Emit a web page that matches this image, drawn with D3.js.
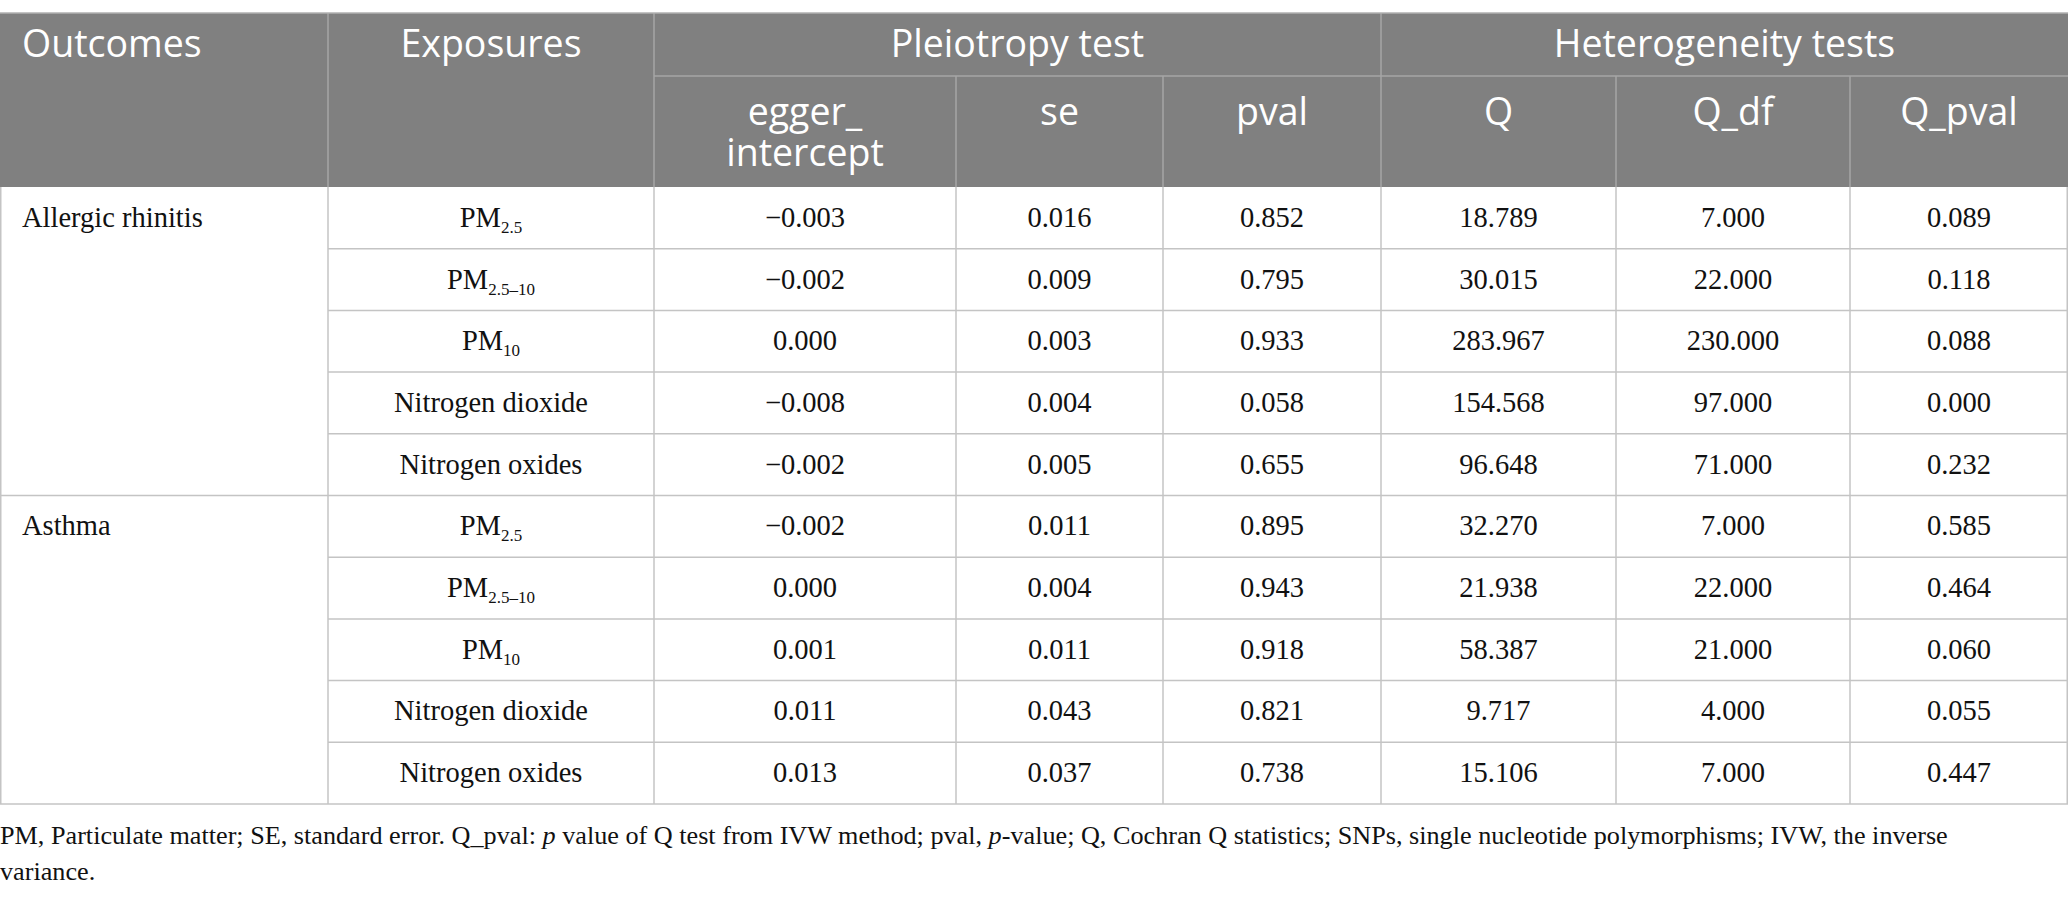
<!DOCTYPE html>
<html><head><meta charset="utf-8">
<script src="https://cdn.jsdelivr.net/npm/d3@7/dist/d3.min.js"></script>
<style>
html,body{margin:0;padding:0;background:#fff;}
svg{display:block;}
</style></head>
<body>
<svg id="chart" width="2068" height="898"></svg>
<script>
// ---------- data ----------
const outcomes = ["Allergic rhinitis", "Asthma"];
const exposureBase = ["PM", "PM", "PM", "Nitrogen dioxide", "Nitrogen oxides"];
const exposureSub = ["2.5", "2.5\u201310", "10", "", ""];
const eggerIntercept = [-0.003, -0.002, 0.000, -0.008, -0.002, -0.002, 0.000, 0.001, 0.011, 0.013];
const seVals = [0.016, 0.009, 0.003, 0.004, 0.005, 0.011, 0.004, 0.011, 0.043, 0.037];
const pvalVals = [0.852, 0.795, 0.933, 0.058, 0.655, 0.895, 0.943, 0.918, 0.821, 0.738];
const qVals = [18.789, 30.015, 283.967, 154.568, 96.648, 32.270, 21.938, 58.387, 9.717, 15.106];
const qdfVals = [7, 22, 230, 97, 71, 7, 22, 21, 4, 7];
const qpvalVals = [0.089, 0.118, 0.088, 0.000, 0.232, 0.585, 0.464, 0.060, 0.055, 0.447];
const groupHeaders = ["Pleiotropy test", "Heterogeneity tests"];
const subHeaders = [["egger_", "intercept"], ["se"], ["pval"], ["Q"], ["Q_df"], ["Q_pval"]];
const footLines = [
  [["PM, Particulate matter; SE, standard error. Q_pval: ", false], ["p", true], [" value of Q test from IVW method; pval, ", false], ["p", true], ["-value; Q, Cochran Q statistics; SNPs, single nucleotide polymorphisms; IVW, the inverse", false]],
  [["variance.", false]]
];

// ---------- layout ----------
const W = 2068;
const colEdges = [0, 328, 654, 956, 1163, 1381, 1616, 1850, 2068];
const tableTop = 13, headMid = 76, headBottom = 187, tableBottom = 804;
const headerFill = "#808080", headerLine = "#a6a6a6", gridLine = "#c4c4c4";
const sansFont = "'Open Sans', 'Noto Sans', sans-serif";
const serifFont = "'Liberation Serif', 'DejaVu Serif', serif";

const svg = d3.select("#chart");
const nRows = eggerIntercept.length;
const y = d3.scaleBand().domain(d3.range(nRows)).range([headBottom, tableBottom]).paddingInner(0).paddingOuter(0);
const colX = i => colEdges[i];
const colC = i => (colEdges[i] + colEdges[i + 1]) / 2;

// header background
svg.append("rect").attr("x", 0).attr("y", tableTop).attr("width", W).attr("height", headBottom - tableTop).attr("fill", headerFill);

// header lines
const hl = svg.append("g").attr("stroke", headerLine).attr("stroke-width", 1.5);
[1, 2, 5].forEach(i => hl.append("line").attr("x1", colX(i)).attr("x2", colX(i)).attr("y1", tableTop).attr("y2", headBottom));
[3, 4, 6, 7].forEach(i => hl.append("line").attr("x1", colX(i)).attr("x2", colX(i)).attr("y1", headMid).attr("y2", headBottom));
hl.append("line").attr("x1", colX(2)).attr("x2", W).attr("y1", headMid).attr("y2", headMid);
svg.append("line").attr("x1", 0).attr("x2", W).attr("y1", tableTop).attr("y2", tableTop).attr("stroke", "#b0b0b0").attr("stroke-width", 1.5);

// header text
const ht = svg.append("g").attr("fill", "#fff").attr("font-family", sansFont).attr("font-size", 37.5);
ht.append("text").attr("x", 22).attr("y", 57).text("Outcomes");
ht.append("text").attr("x", colC(1)).attr("y", 57).attr("text-anchor", "middle").text("Exposures");
ht.append("text").attr("x", (colX(2) + colX(5)) / 2).attr("y", 57).attr("text-anchor", "middle").text(groupHeaders[0]);
ht.append("text").attr("x", (colX(5) + colX(8)) / 2).attr("y", 57).attr("text-anchor", "middle").text(groupHeaders[1]);
subHeaders.forEach((lines, k) => {
  const t = ht.append("text").attr("x", colC(k + 2)).attr("y", 125).attr("text-anchor", "middle");
  lines.forEach((s, j) => {
    t.append("tspan").attr("x", colC(k + 2)).attr("dy", j === 0 ? 0 : 41).text(s);
  });
});

// grid lines in body
const gl = svg.append("g").attr("stroke", gridLine).attr("stroke-width", 1.5);
d3.range(1, nRows).forEach(r => {
  const x1 = (r === 5) ? 0 : colX(1);
  gl.append("line").attr("x1", x1).attr("x2", W).attr("y1", y(r)).attr("y2", y(r));
});
gl.append("line").attr("x1", 0).attr("x2", W).attr("y1", tableBottom).attr("y2", tableBottom);
d3.range(1, 8).forEach(i => gl.append("line").attr("x1", colX(i)).attr("x2", colX(i)).attr("y1", headBottom).attr("y2", tableBottom));
gl.append("line").attr("x1", 0.75).attr("x2", 0.75).attr("y1", headBottom).attr("y2", tableBottom);
gl.append("line").attr("x1", W - 0.75).attr("x2", W - 0.75).attr("y1", headBottom).attr("y2", tableBottom);

// body text
const fmt = v => (v < 0 ? "\u2212" : "") + d3.format(".3f")(Math.abs(v));
const body = svg.append("g").attr("font-family", serifFont).attr("font-size", 28.5).attr("fill", "#111");
const baseY = r => y(r) + y.bandwidth() / 2 + 9;

outcomes.forEach((o, g) => {
  body.append("text").attr("x", 22).attr("y", baseY(g * 5)).text(o);
});

d3.range(nRows).forEach(r => {
  const e = r % 5;
  const t = body.append("text").attr("x", colC(1)).attr("y", baseY(r)).attr("text-anchor", "middle");
  t.append("tspan").text(exposureBase[e]);
  if (exposureSub[e]) {
    t.append("tspan").attr("font-size", 17).attr("dy", 6).text(exposureSub[e]);
  }
  const vals = [fmt(eggerIntercept[r]), fmt(seVals[r]), fmt(pvalVals[r]), fmt(qVals[r]), fmt(qdfVals[r]), fmt(qpvalVals[r])];
  vals.forEach((v, k) => {
    body.append("text").attr("x", colC(k + 2)).attr("y", baseY(r)).attr("text-anchor", "middle").text(v);
  });
});

// footnote
const foot = svg.append("g").attr("font-family", serifFont).attr("font-size", 26.2).attr("fill", "#111");
footLines.forEach((parts, i) => {
  const t = foot.append("text").attr("x", 0).attr("y", 844 + i * 36);
  parts.forEach(([s, it]) => {
    const sp = t.append("tspan").text(s);
    if (it) sp.attr("font-style", "italic");
  });
});
</script>
</body></html>
